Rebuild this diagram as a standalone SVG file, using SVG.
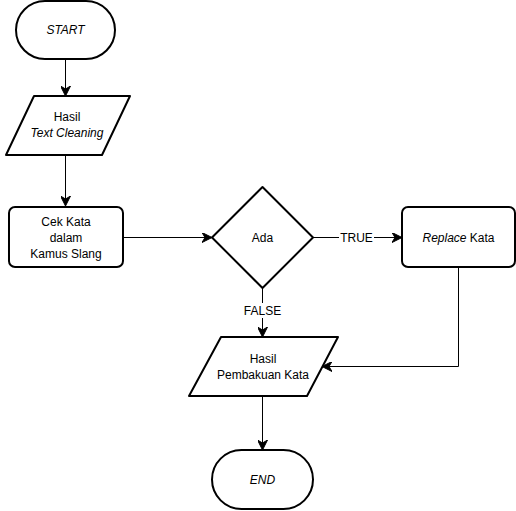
<svg xmlns="http://www.w3.org/2000/svg" width="516" height="511" viewBox="0 0 516 511">
  <style>
    .shape { fill: #ffffff; stroke: #000000; stroke-width: 2; stroke-linejoin: round; }
    .edge { fill: none; stroke: #000000; stroke-width: 1; }
    text { font-family: "Liberation Sans", Arial, sans-serif; font-size: 12px; fill: #000000; text-anchor: middle; dominant-baseline: central; }
    .it { font-style: italic; }
    .lbl-bg { fill: #ffffff; stroke: none; }
  </style>
  <defs>
    <marker id="arrow" viewBox="0 0 10 10" refX="9" refY="5" markerWidth="10" markerHeight="10" markerUnits="userSpaceOnUse" orient="auto">
      <path d="M0,0 L10,5 L0,10 L3,5 Z" fill="#000000" stroke="#000000" stroke-width="1"/>
    </marker>
  </defs>
  <rect width="516" height="511" fill="#ffffff"/>

  <!-- connectors -->
  <g id="connectors">
    <path class="edge" d="M65.5,60 L65.5,95" marker-end="url(#arrow)"/>
    <path class="edge" d="M65.5,155 L65.5,205" marker-end="url(#arrow)"/>
    <path class="edge" d="M124,237.5 L211,237.5" marker-end="url(#arrow)"/>
    <path class="edge" d="M313,237.5 L401,237.5" marker-end="url(#arrow)"/>
    <path class="edge" d="M262.5,288 L262.5,336" marker-end="url(#arrow)"/>
    <path class="edge" d="M458.5,268 L458.5,366.5 L323,366.5" marker-end="url(#arrow)"/>
    <path class="edge" d="M262.5,397 L262.5,449" marker-end="url(#arrow)"/>
    <!-- edge labels -->
    <rect class="lbl-bg" x="339" y="230" width="35" height="15"/>
    <text x="356.5" y="237.5">TRUE</text>
    <rect class="lbl-bg" x="242" y="303" width="41" height="15"/>
    <text x="262.5" y="310.5">FALSE</text>
  </g>

  <g id="start">
    <rect class="shape" x="16" y="1" width="99" height="58" rx="29" ry="29"/>
    <text class="it" x="65.5" y="30">START</text>
  </g>

  <g id="hasil-text-cleaning">
    <polygon class="shape" points="34,96 130,96 102,155 6,155"/>
    <text x="67" y="117">Hasil</text>
    <text class="it" x="67" y="133">Text Cleaning</text>
  </g>

  <g id="cek-kata">
    <rect class="shape" x="9" y="207" width="114" height="60" rx="6" ry="6"/>
    <text x="66" y="221.5">Cek Kata</text>
    <text x="66" y="237.5">dalam</text>
    <text x="66" y="253.5">Kamus Slang</text>
  </g>

  <g id="ada">
    <polygon class="shape" points="262.5,187 313,237.5 262.5,288 212,237.5"/>
    <text x="262.5" y="237.5">Ada</text>
  </g>

  <g id="replace-kata">
    <rect class="shape" x="402" y="207" width="113" height="60" rx="6" ry="6"/>
    <text x="458.5" y="237.5"><tspan class="it">Replace</tspan> Kata</text>
  </g>

  <g id="hasil-pembakuan">
    <polygon class="shape" points="221,337 338,337 307,396 189,396"/>
    <text x="263" y="359">Hasil</text>
    <text x="263" y="375">Pembakuan Kata</text>
  </g>

  <g id="end">
    <rect class="shape" x="212" y="450" width="101" height="59" rx="29.5" ry="29.5"/>
    <text class="it" x="262.5" y="479.5">END</text>
  </g>
</svg>
